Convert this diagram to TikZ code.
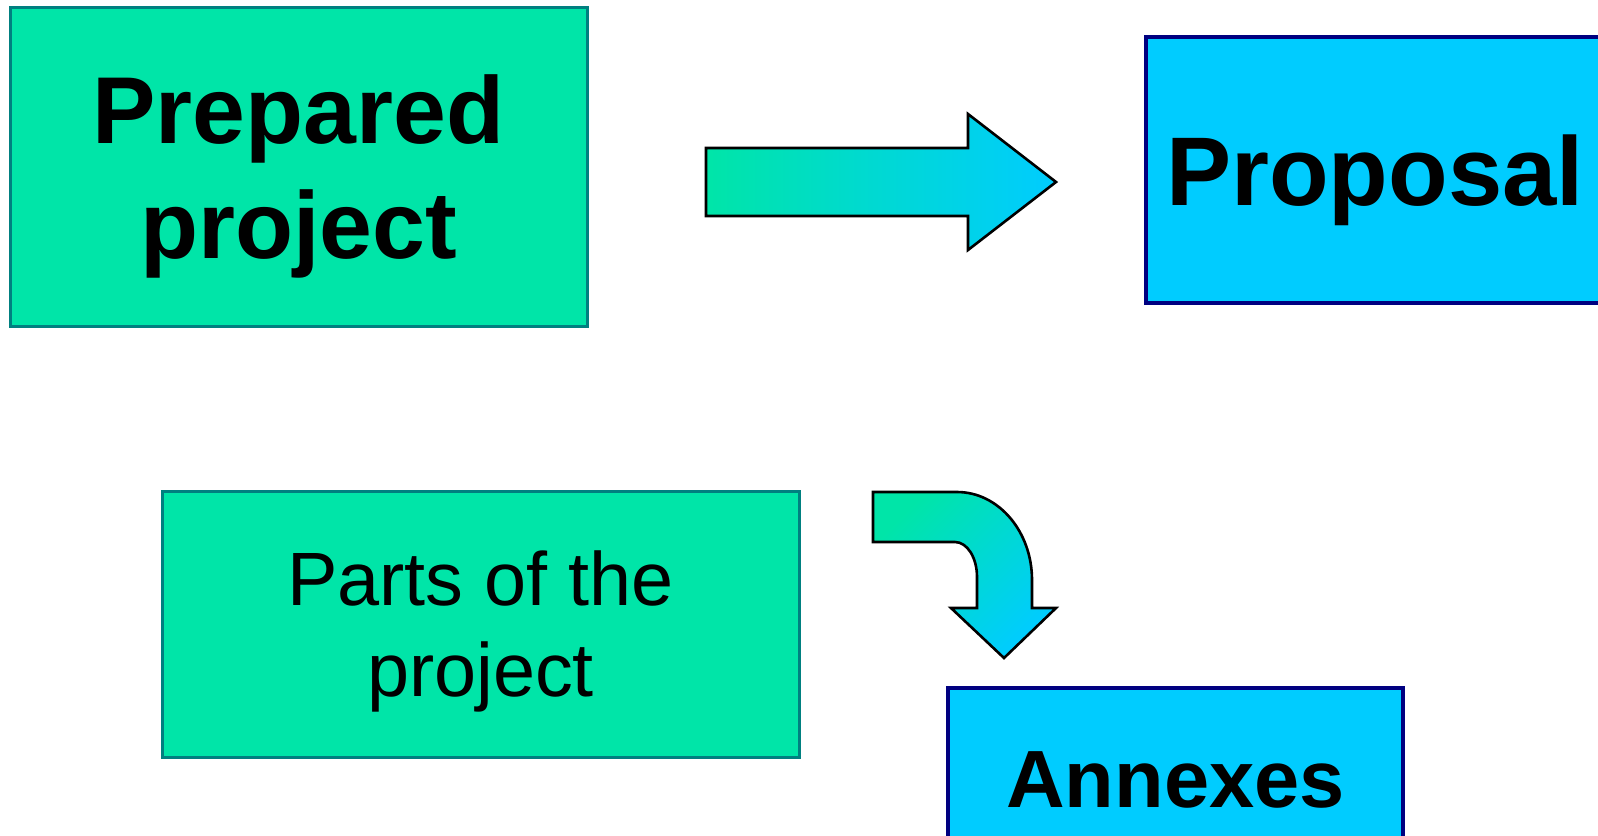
\documentclass[tikz,border=0pt]{standalone}
\usepackage{fontspec}
\setmainfont{Liberation Sans}
\usepackage{tikz}
\usetikzlibrary{calc}

\definecolor{boxgreen}{RGB}{0,229,168}
\definecolor{boxteal}{RGB}{0,128,128}
\definecolor{boxcyan}{RGB}{0,204,255}
\definecolor{boxnavy}{RGB}{0,0,128}

\begin{document}
\begin{tikzpicture}[x=0.5pt,y=-0.5pt]
  \tikzset{mygreenbox/.style={rectangle, draw=boxteal, fill=boxgreen, line width=1.5pt, align=center, text depth=0pt, inner sep=0pt}};
  \tikzset{mybluebox/.style={rectangle, draw=boxnavy, fill=boxcyan, line width=2pt, align=center, text depth=0pt, inner sep=0pt}};
  \tikzset{myarrow/.style={draw=black, line width=1.3pt, line join=miter}};
  \useasboundingbox (0,0) rectangle (1598,835);
  \clip (0,0) rectangle (1598,835);

  \node[mygreenbox, minimum width=288.5pt, minimum height=159.5pt,
    font=\fontsize{47.5}{57.5}\selectfont\bfseries] (prepared) at (298.5,166.5) {Prepared\\project};
  \node[mybluebox, minimum width=229pt, minimum height=133pt,
    font=\fontsize{48.8}{58}\selectfont\bfseries] (proposal) at (1375,170) {Proposal};
  \node[mygreenbox, minimum width=318.5pt, minimum height=133pt,
    font=\fontsize{37.8}{45.5}\selectfont] (parts) at (480.5,624) {Parts of the\\project};
  \node[mybluebox, minimum width=227.5pt, minimum height=92pt,
    font=\fontsize{40.6}{48}\selectfont\bfseries] (annexes) at (1175.5,780) {Annexes};

  % straight block arrow
  \path[myarrow, left color=boxgreen, right color=boxcyan]
    (706,148) -- (968,148) -- (968,114) -- (1056,182) -- (968,250)
    -- (968,216) -- (706,216) -- cycle;

  % bent block arrow
  \path[myarrow, top color=boxgreen, bottom color=boxcyan, shading angle=45]
    (873,492) -- (957,492) .. controls (998.4,492) and (1032,531.4) .. (1032,580)
    -- (1032,608) -- (1056,608) -- (1004,658) -- (951,608) -- (977,608)
    -- (977,577) .. controls (977,557.7) and (967.2,542) .. (955,542)
    -- (873,542) -- cycle;
\end{tikzpicture}
\end{document}
